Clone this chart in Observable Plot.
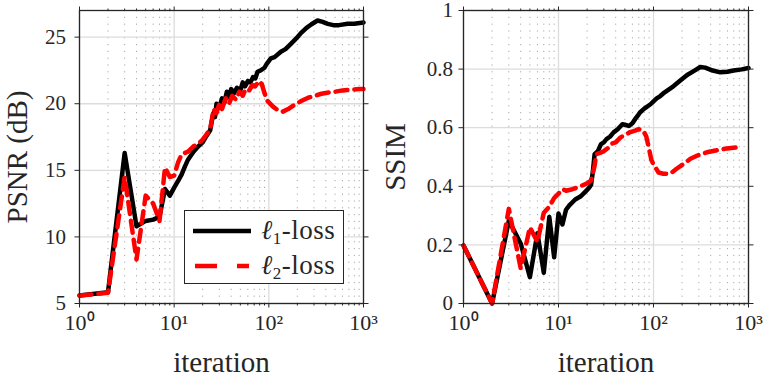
<!DOCTYPE html>
<html>
<head>
<meta charset="utf-8">
<script src="https://cdn.jsdelivr.net/npm/d3@7"></script>
<script src="https://cdn.jsdelivr.net/npm/@observablehq/plot@0.6"></script>
<style>
  body { margin: 0; background: white; }
  #wrap { position: relative; width: 768px; height: 382px; display: flex; font-family: "Liberation Serif", serif; }
  #legend { position: absolute; left: 184px; top: 210px; width: 158px; height: 72px; border: 1.5px solid #262626; background: white; }
  #legend svg { position: absolute; left: 0; top: 0; }
  .lt { position: absolute; left: 76px; font-size: 27px; color: #262626; line-height: 1; white-space: nowrap; letter-spacing: 0.5px; }
  .lt i { font-style: italic; }
  .lt sub { font-size: 17px; vertical-align: -5px; line-height: 0; }
</style>
</head>
<body>
<div id="wrap">
  <div id="left"></div>
  <div id="right"></div>
  <div id="legend">
    <svg width="158" height="72">
      <line x1="8" x2="66" y1="20" y2="20" stroke="black" stroke-width="4.5"></line>
      <line x1="10" x2="64" y1="55" y2="55" stroke="#ff0000" stroke-width="4.5" stroke-dasharray="22,20"></line>
    </svg>
    <div class="lt" style="top:6px"><i>ℓ</i><sub>1</sub>-loss</div>
    <div class="lt" style="top:41px"><i>ℓ</i><sub>2</sub>-loss</div>
  </div>
</div>
<script>
// ---------- data ----------
const seriesNames = ["ℓ1-loss", "ℓ2-loss"];
const xMajorTicks = [1, 10, 100, 1000];
const xMinorTicks = [2,3,4,5,6,7,8,9,20,30,40,50,60,70,80,90,200,300,400,500,600,700,800,900];
const psnrTicks = [5, 10, 15, 20, 25];
const ssimTicks = [0, 0.2, 0.4, 0.6, 0.8, 1];

const iterPsnrL1 = [1,2,3,4,5,6,7,8,9,10,11,12,13,14,16,18,20,22,24,25,26,27,28,30,32,34,36,38,40,43,46,50,53,56,60,64,68,72,76,82,90,95,105,115,134,150,171,195,218,250,280,327,370,420,480,550,680,800,1000];
const psnrL1 = [5.6,5.85,16.3,10.8,11.2,11.3,11.5,13.6,13.1,13.7,14.2,14.7,15.3,15.8,16.4,16.8,17.1,17.6,18.0,18.7,19.3,19.0,20.0,19.7,20.4,20.1,20.9,20.5,21.1,20.8,21.2,21.0,21.6,21.3,21.7,21.6,22.0,21.9,22.4,22.5,22.7,23.0,23.4,23.5,23.9,24.1,24.5,24.9,25.3,25.7,25.95,26.25,26.15,26.0,25.9,25.9,26.0,26.0,26.1];

const iterPsnrL2 = [1,2,3,4,5,6,7,8,9,10,11,12,14,16,18,20,22,24,25,26,28,30,32,35,38,41,45,49,53,57,62,67,72,78,84,90,97,110,125,140,160,185,220,260,310,360,430,500,600,750,900,1000];
const psnrL2 = [5.6,5.8,14.5,8.3,13.1,12.5,11.2,15.2,14.5,14.6,15.6,16.2,16.4,16.8,17.0,17.3,17.7,18.1,18.8,19.6,19.3,20.0,19.6,20.4,20.0,20.6,20.3,20.9,20.6,21.1,21.0,21.4,21.3,21.7,21.5,20.8,20.2,19.8,19.5,19.4,19.6,19.9,20.2,20.45,20.6,20.75,20.85,20.9,21.0,21.05,21.1,21.1];

const iterSsimL1 = [1,2,3,4,5,6,7,8,9,10,11,12,13,15,17,19,21,22,23,24,26,28,30,32,35,38,42,47,50,55,60,64,68,72,80,93,100,108,118,130,163,190,226,270,311,350,420,504,600,697,850,1000];
const ssimL1 = [0.198,0.0,0.283,0.205,0.09,0.24,0.105,0.295,0.158,0.307,0.27,0.32,0.335,0.355,0.365,0.38,0.395,0.405,0.45,0.51,0.52,0.544,0.55,0.561,0.57,0.584,0.595,0.612,0.61,0.606,0.615,0.629,0.64,0.652,0.665,0.68,0.69,0.70,0.708,0.72,0.742,0.76,0.78,0.795,0.807,0.805,0.795,0.789,0.791,0.795,0.799,0.804];

const iterSsimL2 = [1,2,3,4,5,6,7,8,9,10,11,12,14,17,20,22,24,25,28,30,33,36,40,45,50,57,64,70,78,84,89,95,100,113,127,150,175,208,245,290,365,450,560,760];
const ssimL2 = [0.198,0.0,0.323,0.12,0.26,0.21,0.31,0.33,0.36,0.375,0.39,0.385,0.39,0.40,0.41,0.42,0.47,0.51,0.515,0.52,0.53,0.545,0.55,0.567,0.575,0.585,0.59,0.595,0.59,0.57,0.533,0.49,0.475,0.447,0.443,0.443,0.46,0.477,0.494,0.505,0.516,0.522,0.528,0.533];

// ---------- helpers ----------
const sup = {"0":"⁰","1":"¹","2":"²","3":"³"};
const fmtPow = d => "10" + String(Math.round(Math.log10(d))).split("").map(c => sup[c]).join("");
const ink = "#262626";
const rows = (xs, ys) => xs.map((x, i) => ({x, y: ys[i]}));

function panel({w, ml, mr, yDomain, yTicks, yFmt, yLabel, yLabelDx, yPad, l1, l2}) {
  return Plot.plot({
    width: w, height: 382,
    marginLeft: ml, marginRight: mr, marginTop: 10, marginBottom: 79,
    style: {fontFamily: "'Liberation Serif', serif", fontSize: "22px", color: ink, background: "white", overflow: "visible"},
    x: {type: "log", domain: [1, 1000]},
    y: {domain: yDomain},
    marks: [
      Plot.gridX(xMajorTicks, {stroke: "#dcdcdc", strokeOpacity: 1, strokeWidth: 1.3}),
      Plot.gridX(xMinorTicks, {stroke: "#a8a8a8", strokeOpacity: 1, strokeWidth: 1, strokeDasharray: "1.2,5.6"}),
      Plot.gridY(yTicks, {stroke: "#dcdcdc", strokeOpacity: 1, strokeWidth: 1.3}),
      Plot.line(l1, {x: "x", y: "y", stroke: "black", strokeWidth: 4.5, strokeLinejoin: "round"}),
      Plot.line(l2, {x: "x", y: "y", stroke: "#ff0000", strokeWidth: 4.5, strokeDasharray: "12,7"}),
      Plot.frame({stroke: ink, strokeWidth: 1.3}),
      Plot.axisX(xMajorTicks, {anchor: "bottom", tickSize: 4.5, tickPadding: 6, tickFormat: fmtPow, stroke: ink, fill: ink, label: null, fontSize: 22}),
      Plot.axisX(xMinorTicks, {anchor: "bottom", tickSize: 2.5, tickFormat: () => "", stroke: ink, label: null}),
      Plot.axisX(xMajorTicks, {anchor: "top", tickSize: 4.5, tickFormat: () => "", stroke: ink, label: null}),
      Plot.axisX(xMinorTicks, {anchor: "top", tickSize: 2.5, tickFormat: () => "", stroke: ink, label: null}),
      Plot.axisY(yTicks, {anchor: "left", tickSize: 4.5, tickPadding: yPad, tickFormat: yFmt, stroke: ink, fill: ink, label: null, fontSize: 21}),
      Plot.axisY(yTicks, {anchor: "right", tickSize: 4.5, tickFormat: () => "", stroke: ink, label: null}),
      Plot.text([yLabel], {frameAnchor: "left", textAnchor: "middle", lineAnchor: "middle", rotate: -90, dx: yLabelDx, fill: ink, fontSize: 29, letterSpacing: 1}),
      Plot.text(["iteration"], {frameAnchor: "bottom", textAnchor: "middle", lineAnchor: "middle", dy: 59, fill: ink, fontSize: 29, letterSpacing: 1})
    ]
  });
}

document.getElementById("left").append(panel({
  w: 384, ml: 79, mr: 21, yDomain: [5, 27], yTicks: psnrTicks, yFmt: d => String(d),
  yLabel: "PSNR (dB)", yLabelDx: -62, yPad: 9,
  l1: rows(iterPsnrL1, psnrL1), l2: rows(iterPsnrL2, psnrL2)
}));
document.getElementById("right").append(panel({
  w: 384, ml: 79, mr: 20, yDomain: [0, 1], yTicks: ssimTicks, yFmt: d => String(d),
  yLabel: "SSIM", yLabelDx: -68, yPad: 6,
  l1: rows(iterSsimL1, ssimL1), l2: rows(iterSsimL2, ssimL2)
}));
</script>
</body>
</html>
